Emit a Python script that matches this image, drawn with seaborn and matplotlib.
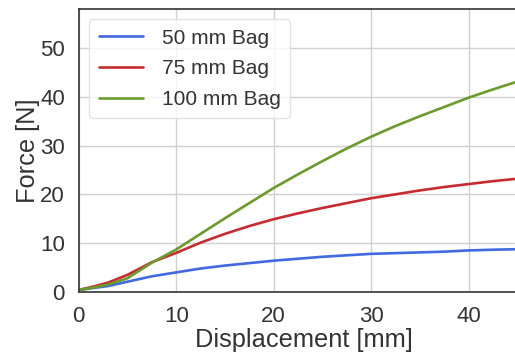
import matplotlib
matplotlib.use("Agg")
import matplotlib.pyplot as plt
import seaborn as sns
import pandas as pd

# Force-displacement curves for three bag sizes
displacement = [0, 1.5, 3, 5, 7.5, 10, 12.5, 15, 17.5, 20, 22.5, 25, 27.5, 30, 32.5, 35, 37.5, 40, 42.5, 45, 46.5]
force_50 = [0.4, 0.8, 1.2, 2.1, 3.2, 4.0, 4.8, 5.4, 5.9, 6.4, 6.8, 7.2, 7.5, 7.8, 7.95, 8.1, 8.25, 8.5, 8.65, 8.75, 8.8]
force_75 = [0.4, 1.1, 1.9, 3.5, 6.1, 8.0, 10.1, 11.9, 13.5, 14.9, 16.1, 17.2, 18.2, 19.2, 20.0, 20.8, 21.5, 22.1, 22.7, 23.2, 23.5]
force_100 = [0.4, 0.9, 1.5, 2.8, 6.0, 8.7, 11.9, 15.1, 18.2, 21.3, 24.1, 26.8, 29.4, 31.8, 34.0, 36.0, 37.9, 39.8, 41.5, 43.1, 44.0]
labels = ["50 mm Bag", "75 mm Bag", "100 mm Bag"]
colors = ["#4169e1", "#c62b30", "#6b9b2b"]

frames = []
for lab, vals in zip(labels, [force_50, force_75, force_100]):
    frames.append(pd.DataFrame({"Displacement": displacement, "Force": vals, "Bag": lab}))
df = pd.concat(frames, ignore_index=True)

sns.set_theme(style="whitegrid")
plt.rcParams["font.family"] = ["Liberation Sans", "DejaVu Sans"]

fig, ax = plt.subplots(figsize=(5.15, 3.56), dpi=100)
sns.lineplot(data=df, x="Displacement", y="Force", hue="Bag", hue_order=labels,
             palette=colors, linewidth=1.9, ax=ax)

ax.set_xlim(0, 46.3)
ax.set_ylim(0, 58)
ax.set_xticks([0, 10, 20, 30, 40])
ax.set_yticks([0, 10, 20, 30, 40, 50])
ax.set_xlabel("Displacement [mm]", fontsize=18.3, color="#333333", labelpad=1)
ax.set_ylabel("Force [N]", fontsize=18.3, color="#333333", labelpad=0)
ax.tick_params(axis="both", labelsize=16, colors="#333333", length=0, pad=10)
for s in ax.spines.values():
    s.set_color("#333333")
    s.set_linewidth(1.2)
ax.grid(color="#d0d0d0", linewidth=1.0)

leg = ax.legend(loc="upper left", fontsize=15, frameon=True, borderpad=0.45,
                handlelength=2.15, handletextpad=0.87, labelspacing=0.56,
                bbox_to_anchor=(0.0, 1.0), borderaxespad=0.5)
leg.get_frame().set_edgecolor("#dddddd")
for t in leg.get_texts():
    t.set_color("#333333")

fig.subplots_adjust(left=0.153, right=1.029, bottom=0.18, top=0.975)
fig.savefig("out.png", dpi=100)
